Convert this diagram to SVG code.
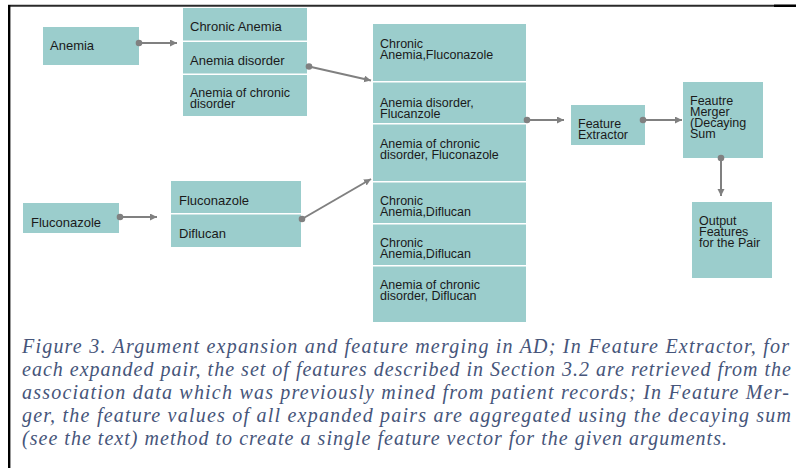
<svg xmlns="http://www.w3.org/2000/svg" width="796" height="468" viewBox="0 0 796 468">
<defs>
<style>
.box{fill:#9bcdcc}
.t{font-family:"Liberation Sans",Arial,sans-serif;font-size:13px;fill:#1a1a1a}
.m{font-family:"Liberation Sans",Arial,sans-serif;font-size:12.5px;fill:#1a1a1a}
.c{stroke:#808080;stroke-width:2;fill:none}
.d{fill:#808080}
.cap{font-family:"Liberation Serif","Times New Roman",Times,serif;font-style:italic;font-size:20px;fill:#46557a}
</style>
<marker id="ah" markerUnits="userSpaceOnUse" markerWidth="8" markerHeight="8" refX="7" refY="3.5" orient="auto">
<path d="M0,0 L7,3.5 L0,7 z" fill="#808080"/>
</marker>
</defs>
<rect width="796" height="468" fill="#ffffff"/>
<g id="frame">
<line x1="8" y1="5.8" x2="796" y2="5.8" stroke="#2a2a2a" stroke-width="2"/>
<line x1="774" y1="5.8" x2="796" y2="5.8" stroke="#000" stroke-width="2.4"/>
<line x1="9.2" y1="5" x2="9.2" y2="468" stroke="#000" stroke-width="2.4"/>
</g>
<g id="anemia">
<rect class="box" x="43" y="27" width="96" height="38"/>
<text class="t" x="50" y="50">Anemia</text>
</g>
<g id="anemia-expansions">
<rect class="box" x="183" y="8" width="124" height="32.5"/>
<text class="t" x="190" y="31">Chronic Anemia</text>
<rect class="box" x="183" y="42" width="124" height="31.5"/>
<text class="t" x="190" y="64.5">Anemia disorder</text>
<rect class="box" x="183" y="75" width="124" height="41"/>
<text class="m" x="190" y="96.5">Anemia of chronic<tspan x="190" dy="11">disorder</tspan></text>
</g>
<g id="fluconazole">
<rect class="box" x="23" y="203" width="96" height="30"/>
<text class="t" x="31" y="226.5">Fluconazole</text>
</g>
<g id="fluconazole-expansions">
<rect class="box" x="171" y="181" width="130" height="32"/>
<text class="t" x="179" y="204.5">Fluconazole</text>
<rect class="box" x="171" y="214.5" width="130" height="32.5"/>
<text class="t" x="179" y="238">Diflucan</text>
</g>
<g id="pairs">
<rect class="box" x="373" y="24" width="153" height="57"/>
<text class="m" x="380" y="47.5">Chronic<tspan x="380" dy="11">Anemia,Fluconazole</tspan></text>
<rect class="box" x="373" y="82.5" width="153" height="40.5"/>
<text class="m" x="380" y="106.5">Anemia disorder,<tspan x="380" dy="11">Flucanzole</tspan></text>
<rect class="box" x="373" y="124.5" width="153" height="56.5"/>
<text class="m" x="380" y="147.5">Anemia of chronic<tspan x="380" dy="11">disorder, Fluconazole</tspan></text>
<rect class="box" x="373" y="182.5" width="153" height="40.5"/>
<text class="m" x="380" y="204.5">Chronic<tspan x="380" dy="11">Anemia,Diflucan</tspan></text>
<rect class="box" x="373" y="224.5" width="153" height="40.5"/>
<text class="m" x="380" y="246.5">Chronic<tspan x="380" dy="11">Anemia,Diflucan</tspan></text>
<rect class="box" x="373" y="266.5" width="153" height="55.5"/>
<text class="m" x="380" y="288.5">Anemia of chronic<tspan x="380" dy="11">disorder, Diflucan</tspan></text>
</g>
<g id="feature-extractor">
<rect class="box" x="571" y="105" width="74" height="40"/>
<text class="m" x="578" y="128">Feature<tspan x="578" dy="11">Extractor</tspan></text>
</g>
<g id="feature-merger">
<rect class="box" x="683" y="82" width="80" height="76"/>
<text class="m" x="690" y="104.5">Feautre<tspan x="690" dy="11">Merger</tspan><tspan x="690" dy="11">(Decaying</tspan><tspan x="690" dy="11">Sum</tspan></text>
</g>
<g id="output">
<rect class="box" x="692" y="202" width="80" height="76"/>
<text class="m" x="699" y="224.5">Output<tspan x="699" dy="11">Features</tspan><tspan x="699" dy="11">for the Pair</tspan></text>
</g>
<g id="connectors">
<line class="c" x1="139" y1="43" x2="177" y2="43" marker-end="url(#ah)"/>
<circle class="d" cx="139" cy="43" r="3.3"/>
<line class="c" x1="309" y1="66.5" x2="371" y2="80.5" marker-end="url(#ah)"/>
<circle class="d" cx="309" cy="66.5" r="3.3"/>
<line class="c" x1="120" y1="217" x2="157" y2="217" marker-end="url(#ah)"/>
<circle class="d" cx="120" cy="217" r="3.3"/>
<line class="c" x1="302" y1="219" x2="371" y2="179" marker-end="url(#ah)"/>
<circle class="d" cx="302" cy="219" r="3.3"/>
<line class="c" x1="527" y1="120" x2="564" y2="120" marker-end="url(#ah)"/>
<circle class="d" cx="527" cy="120" r="3.3"/>
<line class="c" x1="643" y1="120" x2="682" y2="120" marker-end="url(#ah)"/>
<circle class="d" cx="643" cy="120" r="3.3"/>
<line class="c" x1="721" y1="158" x2="721" y2="196" marker-end="url(#ah)"/>
<circle class="d" cx="721" cy="158" r="3.3"/>
</g>
<g id="caption">
<text class="cap" x="22" y="352.5" textLength="767" lengthAdjust="spacing">Figure 3. Argument expansion and feature merging in AD; In Feature Extractor, for</text>
<text class="cap" x="22" y="375.7" textLength="769" lengthAdjust="spacing">each expanded pair, the set of features described in Section 3.2 are retrieved from the</text>
<text class="cap" x="22" y="399" textLength="767" lengthAdjust="spacing">association data which was previously mined from patient records; In Feature Mer-</text>
<text class="cap" x="22" y="421.7" textLength="769" lengthAdjust="spacing">ger, the feature values of all expanded pairs are aggregated using the decaying sum</text>
<text class="cap" x="22" y="445" textLength="705" lengthAdjust="spacing">(see the text) method to create a single feature vector for the given arguments.</text>
</g>
</svg>
